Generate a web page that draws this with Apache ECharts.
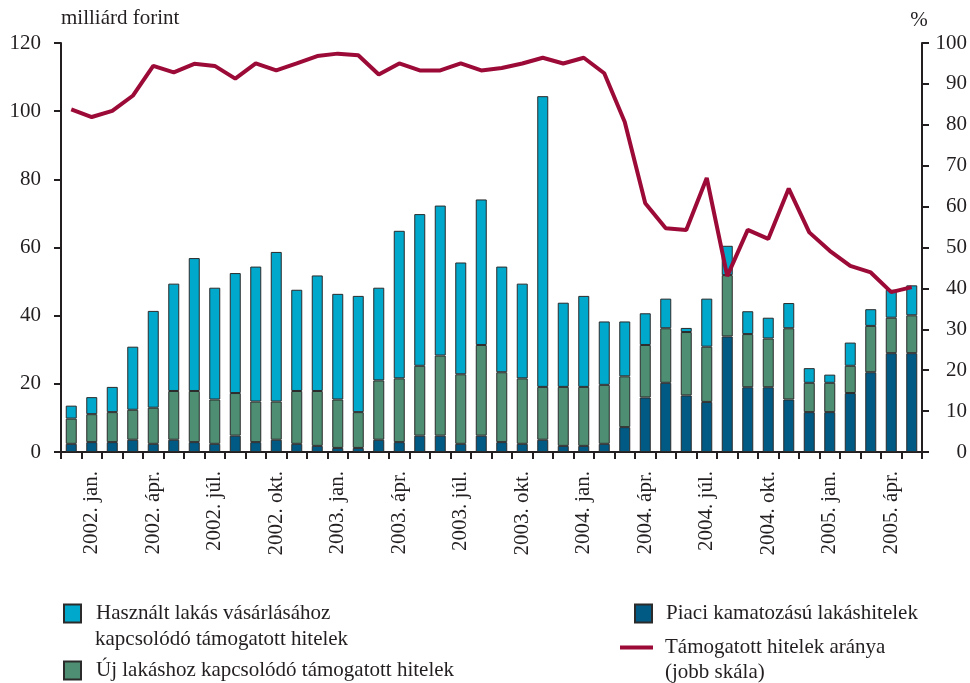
<!DOCTYPE html>
<html>
<head>
<meta charset="utf-8">
<script src="https://cdn.jsdelivr.net/npm/echarts@6/dist/echarts.min.js"></script>
<style>
  html, body { margin: 0; padding: 0; background: #fff; }
  #main { width: 970px; height: 683px; }
</style>
</head>
<body>
<div id="main"></div>
<script>
// months 2001. dec. - 2005. máj.
let honapok = ['jan.', 'febr.', 'márc.', 'ápr.', 'máj.', 'jún.', 'júl.', 'aug.', 'szept.', 'okt.', 'nov.', 'dec.'];
let kategoriak = ['2001. dec.'];
for (let ev = 2002; ev <= 2005; ev++) {
  for (let h = 0; h < 12; h++) {
    if (ev === 2005 && h > 4) break;
    kategoriak.push(ev + '. ' + honapok[h]);
  }
}

let piaci = [2.4, 2.9, 2.9, 3.6, 2.4, 3.6, 2.9, 2.4, 4.8, 2.9, 3.6, 2.4, 1.8, 1.2, 1.2, 3.6, 2.9, 4.8, 4.8, 2.4, 4.8,
  2.9, 2.4, 3.6, 1.8, 1.8, 2.4, 7.3, 16.0, 20.3, 16.6, 14.7, 33.9, 19.0, 19.0, 15.4, 11.7, 11.7, 17.3, 23.4, 29.0, 29.0];
let uj = [7.4, 8.2, 8.8, 8.8, 10.6, 14.3, 15.0, 13.0, 12.5, 11.9, 11.2, 15.5, 16.1, 14.2, 10.5, 17.4, 18.7, 20.5, 23.5, 20.4, 26.6,
  20.5, 19.2, 15.5, 17.3, 17.3, 17.3, 14.9, 15.4, 16.0, 18.6, 16.2, 18.0, 15.6, 14.3, 20.9, 8.6, 8.6, 8.0, 13.6, 10.4, 11.1];
let hasznalt = [3.8, 5.0, 7.4, 18.5, 28.4, 31.5, 39.0, 32.8, 35.2, 39.6, 43.9, 29.7, 33.9, 31.0, 34.1, 27.2, 43.3, 44.5, 44.0, 32.8, 42.7,
  31.0, 27.8, 85.3, 24.7, 26.7, 18.6, 16.1, 9.3, 8.7, 1.2, 14.1, 8.6, 6.7, 6.1, 7.4, 4.3, 2.4, 6.8, 4.9, 8.2, 8.8];
let arany = [83.8, 81.9, 83.4, 87.1, 94.4, 92.8, 94.9, 94.4, 91.3, 95.0, 93.3, 95.0, 96.8, 97.4, 97.0, 92.3, 95.0, 93.3, 93.3, 95.0, 93.3,
  93.9, 95.0, 96.4, 95.0, 96.4, 92.6, 80.7, 60.8, 54.7, 54.3, 67.0, 43.0, 54.3, 52.1, 64.4, 53.7, 49.2, 45.5, 43.9, 39.1, 40.3];

let font = 'Liberation Serif';
let fekete = '#231f20';
let piros = '#9c0a38';

function abra() {
  let myChart = echarts.init(document.getElementById('main'));
  var option;
  option = {
    animation: false,
    textStyle: { fontFamily: font, color: fekete },
    grid: { left: 61, right: 48, top: 43, bottom: 231 },
    legend: [{
      left: 63, top: 603, padding: 0, itemWidth: 17, itemHeight: 18, icon: 'rect',
      data: ['Használt lakás vásárlásához kapcsolódó támogatott hitelek'],
      formatter: function () { return 'Használt lakás vásárlásához'; },
      textStyle: { fontFamily: font, fontSize: 21, lineHeight: 19, color: fekete, padding: [0, 0, 0, 10] }
    }, {
      left: 63, top: 660, padding: 0, itemWidth: 17, itemHeight: 18, icon: 'rect',
      data: ['Új lakáshoz kapcsolódó támogatott hitelek'],
      textStyle: { fontFamily: font, fontSize: 21, lineHeight: 19, color: fekete, padding: [0, 0, 0, 10] }
    }, {
      left: 634, top: 603, padding: 0, itemWidth: 17, itemHeight: 18, icon: 'rect',
      data: ['Piaci kamatozású lakáshitelek'],
      textStyle: { fontFamily: font, fontSize: 21, lineHeight: 19, color: fekete, padding: [0, 0, 0, 9] }
    }, {
      left: 620, top: 637, padding: 0, itemWidth: 33, itemHeight: 4, icon: 'rect',
      data: ['Támogatott hitelek aránya (jobb skála)'],
      formatter: function () { return 'Támogatott hitelek aránya'; },
      itemStyle: { color: piros, borderWidth: 0 },
      textStyle: { fontFamily: font, fontSize: 21, lineHeight: 20, color: fekete, padding: [0, 0, 0, 7] }
    }],
    graphic: [{
      type: 'text', left: 95, top: 629,
      style: { text: 'kapcsolódó támogatott hitelek', font: '21px "Liberation Serif"', fill: fekete }
    }, {
      type: 'text', left: 665, top: 662,
      style: { text: '(jobb skála)', font: '21px "Liberation Serif"', fill: fekete }
    }],
    xAxis: {
      type: 'category',
      data: kategoriak,
      axisLine: { lineStyle: { color: fekete, width: 2 } },
      axisTick: { show: true, interval: 0, length: 7, lineStyle: { color: fekete, width: 2 } },
      axisLabel: {
        interval: function (i) { return i % 3 === 1; },
        rotate: 90, margin: 19,
        fontFamily: font, fontSize: 21, color: fekete
      }
    },
    yAxis: [{
      type: 'value', min: 0, max: 120, interval: 20,
      name: 'milliárd forint', nameGap: 25,
      nameTextStyle: { fontFamily: font, fontSize: 21, color: fekete, align: 'left', verticalAlign: 'middle' },
      splitLine: { show: false },
      axisLine: { show: true, lineStyle: { color: fekete, width: 2 } },
      axisTick: { show: true, length: 7, lineStyle: { color: fekete, width: 2 } },
      axisLabel: { fontFamily: font, fontSize: 21, color: fekete, margin: 20 }
    }, {
      type: 'value', min: 0, max: 100, interval: 10, position: 'right',
      name: '%', nameGap: 23,
      nameTextStyle: { fontFamily: font, fontSize: 21, color: fekete, verticalAlign: 'middle', padding: [0, 0, 0, -6] },
      splitLine: { show: false },
      axisLine: { show: true, lineStyle: { color: fekete, width: 2 } },
      axisTick: { show: true, length: 7, lineStyle: { color: fekete, width: 2 } },
      axisLabel: { fontFamily: font, fontSize: 21, color: fekete, margin: 45, align: 'right' }
    }],
    series: [{
      name: 'Piaci kamatozású lakáshitelek',
      type: 'bar', stack: 'hitel', barWidth: 11,
      data: piaci,
      itemStyle: { color: '#005a84', borderColor: '#2b2b2b', borderWidth: 1 }
    }, {
      name: 'Új lakáshoz kapcsolódó támogatott hitelek',
      type: 'bar', stack: 'hitel', barWidth: 11,
      data: uj,
      itemStyle: { color: '#4e8e72', borderColor: '#2b2b2b', borderWidth: 1 }
    }, {
      name: 'Használt lakás vásárlásához kapcsolódó támogatott hitelek',
      type: 'bar', stack: 'hitel', barWidth: 11,
      data: hasznalt,
      itemStyle: { color: '#00a8cb', borderColor: '#2b2b2b', borderWidth: 1 }
    }, {
      name: 'Támogatott hitelek aránya (jobb skála)',
      type: 'line', yAxisIndex: 1, z: 5,
      symbol: 'none',
      data: arany,
      lineStyle: { color: piros, width: 4 },
      itemStyle: { color: piros }
    }]
  };
  myChart.setOption(option);
}
abra();
</script>
</body>
</html>
